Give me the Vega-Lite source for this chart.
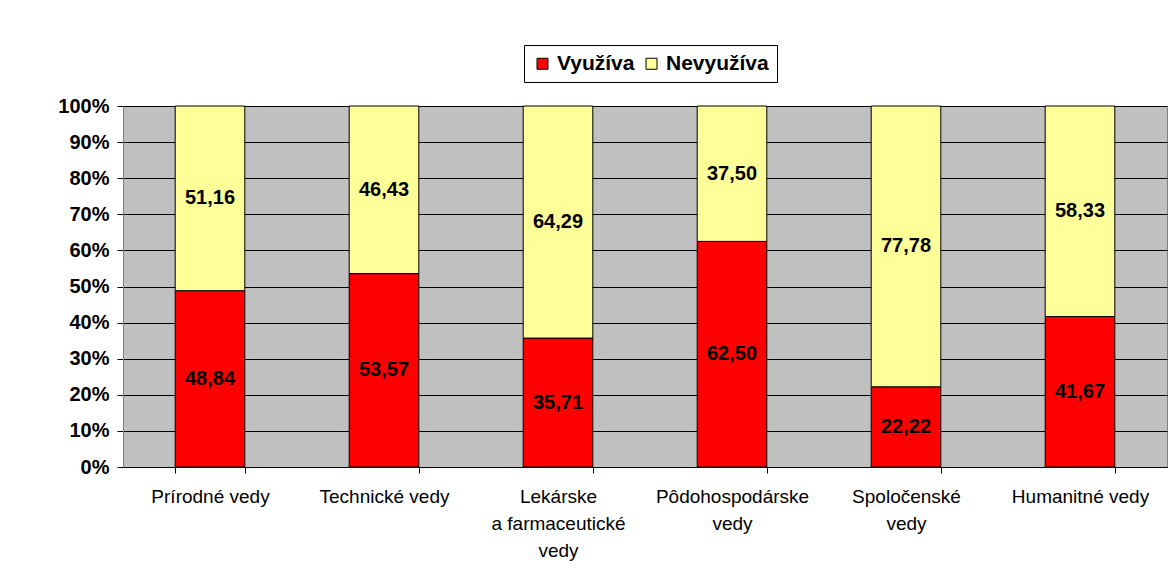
{
  "$schema": "https://vega.github.io/schema/vega-lite/v6.json",
  "width": 1044,
  "height": 361,
  "autosize": "none",
  "padding": {"left": 123, "top": 106, "right": 6, "bottom": 116},
  "background": "white",
  "config": {
    "font": "Liberation Sans",
    "locale": {"number": {"decimal": ",", "thousands": " ", "grouping": [3], "currency": ["", " €"]}},
    "view": {"fill": "#C0C0C0", "stroke": "#808080", "strokeWidth": 1}
  },
  "data": {
    "values": [
      {"cat": "Prírodné vedy", "group": "Využíva", "gorder": 1, "value": 48.84},
      {"cat": "Prírodné vedy", "group": "Nevyužíva", "gorder": 2, "value": 51.16},
      {"cat": "Technické vedy", "group": "Využíva", "gorder": 1, "value": 53.57},
      {"cat": "Technické vedy", "group": "Nevyužíva", "gorder": 2, "value": 46.43},
      {"cat": "Lekárske|a farmaceutické|vedy", "group": "Využíva", "gorder": 1, "value": 35.71},
      {"cat": "Lekárske|a farmaceutické|vedy", "group": "Nevyužíva", "gorder": 2, "value": 64.29},
      {"cat": "Pôdohospodárske|vedy", "group": "Využíva", "gorder": 1, "value": 62.50},
      {"cat": "Pôdohospodárske|vedy", "group": "Nevyužíva", "gorder": 2, "value": 37.50},
      {"cat": "Spoločenské|vedy", "group": "Využíva", "gorder": 1, "value": 22.22},
      {"cat": "Spoločenské|vedy", "group": "Nevyužíva", "gorder": 2, "value": 77.78},
      {"cat": "Humanitné vedy", "group": "Využíva", "gorder": 1, "value": 41.67},
      {"cat": "Humanitné vedy", "group": "Nevyužíva", "gorder": 2, "value": 58.33}
    ]
  },
  "encoding": {
    "x": {
      "field": "cat",
      "type": "nominal",
      "sort": ["Prírodné vedy", "Technické vedy", "Lekárske|a farmaceutické|vedy", "Pôdohospodárske|vedy", "Spoločenské|vedy", "Humanitné vedy"],
      "scale": {"paddingInner": 0.6, "paddingOuter": 0.3},
      "axis": {
        "title": null,
        "labelAngle": 0,
        "labelExpr": "split(datum.label, '|')",
        "labelFontSize": 19,
        "labelColor": "black",
        "labelLineHeight": 27,
        "labelPadding": 14,
        "tickBand": "extent",
        "tickColor": "black",
        "tickSize": 6,
        "domainColor": "black",
        "labelLimit": 300
      }
    },
    "y": {
      "field": "value",
      "type": "quantitative",
      "stack": "normalize",
      "axis": {
        "title": null,
        "format": "%",
        "values": [0, 0.1, 0.2, 0.3, 0.4, 0.5, 0.6, 0.7, 0.8, 0.9, 1],
        "labelFontSize": 20,
        "labelFontWeight": "bold",
        "labelColor": "black",
        "tickColor": "black",
        "tickSize": 6,
        "labelPadding": 8,
        "domainColor": "#808080",
        "gridColor": "black",
        "gridOpacity": 1,
        "gridWidth": 1
      }
    },
    "order": {"field": "gorder", "type": "quantitative"}
  },
  "layer": [
    {
      "mark": {"type": "bar", "stroke": "black", "strokeWidth": 1},
      "encoding": {
        "color": {
          "field": "group",
          "type": "nominal",
          "scale": {"domain": ["Využíva", "Nevyužíva"], "range": ["#FF0000", "#FFFF99"]},
          "legend": {
            "title": null,
            "orient": "none",
            "legendX": 401,
            "legendY": -61,
            "direction": "horizontal",
            "symbolType": "square",
            "symbolSize": 121,
            "symbolStrokeColor": "black",
            "symbolStrokeWidth": 1,
            "labelFontSize": 21,
            "labelFontWeight": "bold",
            "labelColor": "black",
            "labelOffset": 4,
            "columnPadding": 6,
            "strokeColor": "black",
            "fillColor": "white",
            "padding": 8
          }
        }
      }
    },
    {
      "mark": {"type": "text", "fontSize": 20, "fontWeight": "bold", "color": "black", "baseline": "middle"},
      "encoding": {
        "y": {"field": "value", "type": "quantitative", "stack": "normalize", "bandPosition": 0.5},
        "text": {"field": "value", "type": "quantitative", "format": ".2f"}
      }
    }
  ]
}
